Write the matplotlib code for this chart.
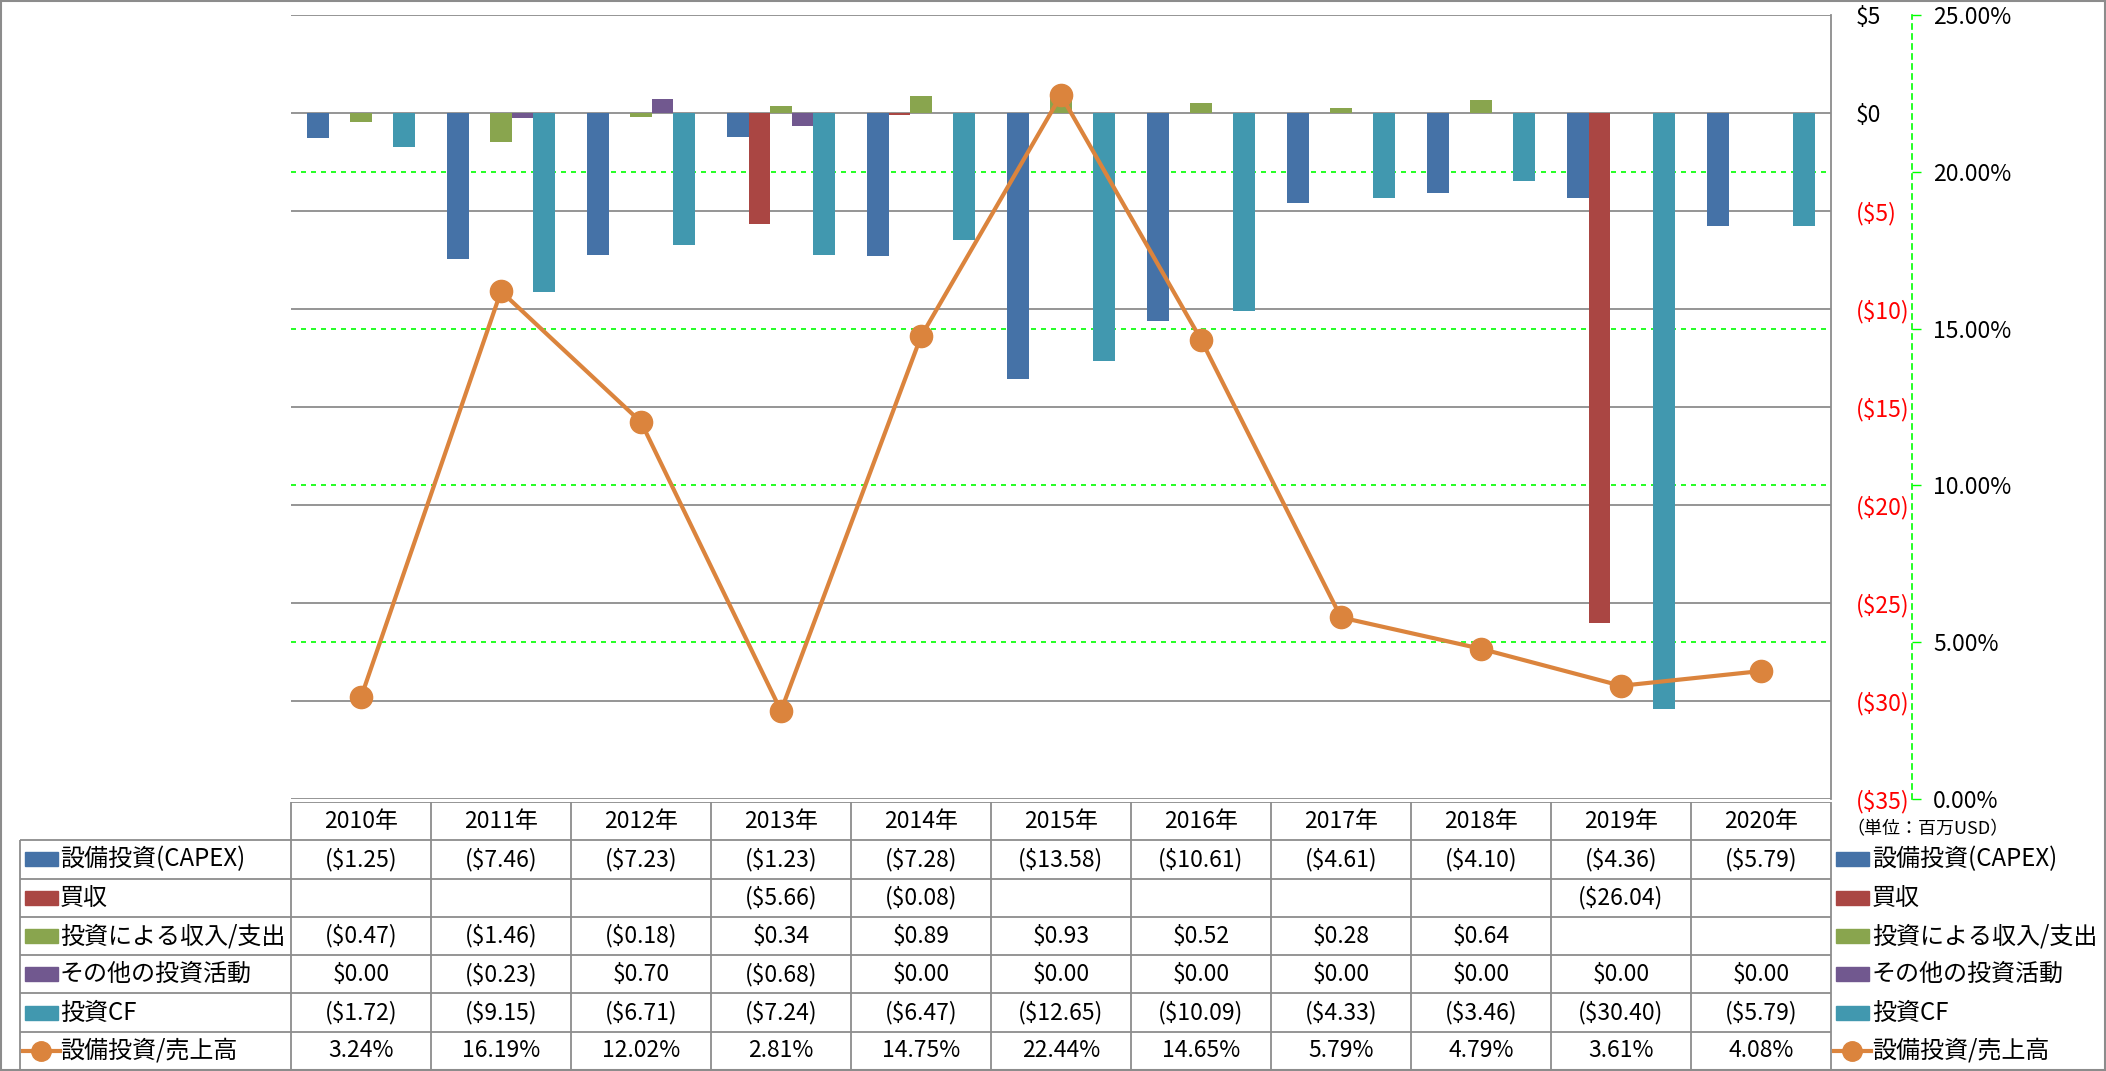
import matplotlib.pyplot as plt
from matplotlib.patches import Rectangle

plt.rcParams['font.family'] = ['Noto Sans CJK JP', 'DejaVu Sans']

# data (million USD)
years = ['2010年', '2011年', '2012年', '2013年', '2014年', '2015年',
         '2016年', '2017年', '2018年', '2019年', '2020年']
capex = [-1.25, -7.46, -7.23, -1.23, -7.28, -13.58, -10.61, -4.61, -4.10, -4.36, -5.79]
acquisition = [None, None, None, -5.66, -0.08, None, None, None, None, -26.04, None]
inv_income = [-0.47, -1.46, -0.18, 0.34, 0.89, 0.93, 0.52, 0.28, 0.64, None, None]
other_inv = [0.00, -0.23, 0.70, -0.68, 0.00, 0.00, 0.00, 0.00, 0.00, 0.00, 0.00]
inv_cf = [-1.72, -9.15, -6.71, -7.24, -6.47, -12.65, -10.09, -4.33, -3.46, -30.40, -5.79]
capex_ratio = [3.24, 16.19, 12.02, 2.81, 14.75, 22.44, 14.65, 5.79, 4.79, 3.61, 4.08]

bar_names = ['設備投資(CAPEX)', '買収', '投資による収入/支出', 'その他の投資活動', '投資CF']
line_name = '設備投資/売上高'
usd_ticks = [5, 0, -5, -10, -15, -20, -25, -30, -35]
pct_ticks = [0, 5, 10, 15, 20, 25]

colors = ['#4572A7', '#AA4643', '#89A54E', '#71588F', '#4198AF']
line_color = '#DB843D'
grid_gray = '#8C8C8C'
green = '#00FF00'

W, H = 2106, 1071
FS = 16.5      # numbers
FS_JP = 17.3   # series names


def usd(v):
    if v is None:
        return ''
    if v < 0:
        return f'(${-v:.2f})'
    return f'${v:.2f}'


def usd_axis(v):
    if v < 0:
        return f'(${-v})'
    return f'${v}'


fig = plt.figure(figsize=(W / 100, H / 100), dpi=100)

# main chart
ax = fig.add_axes([291 / W, 1 - 799 / H, 1540 / W, 784 / H])
ax2 = ax.twinx()

bars = [capex, acquisition, inv_income, other_inv, inv_cf]
bw = 1 / 6.5
for k, vals in enumerate(bars):
    xs = [i + (k - 2) * bw for i, v in enumerate(vals) if v is not None]
    hs = [v for v in vals if v is not None]
    ax.bar(xs, hs, width=bw, color=colors[k], zorder=3)

ax.set_xlim(-0.5, 10.5)
ax.set_ylim(-35, 5)
ax.set_yticks(usd_ticks)
ax.set_yticklabels([usd_axis(v) for v in usd_ticks])
ax.set_xticks([])
ax.yaxis.grid(True, color=grid_gray, lw=1.3, zorder=0)
ax.set_axisbelow(True)
for s in ['left', 'top', 'bottom']:
    ax.spines[s].set_visible(False)
ax.spines['right'].set_visible(True)
ax.spines['right'].set_color(grid_gray)
ax.spines['right'].set_linewidth(1.3)
ax.yaxis.tick_right()
ax.tick_params(axis='y', which='both', left=False, right=True, labelleft=False,
               labelright=True, length=0, pad=18, labelsize=FS)
for tick, v in zip(ax.yaxis.get_major_ticks(), usd_ticks):
    tick.label2.set_color('red' if v < 0 else 'black')

# secondary axis (ratio)
ax2.set_ylim(0, 25)
ax2.set_yticks(pct_ticks)
ax2.set_yticklabels([f'{v:.2f}%' for v in pct_ticks])
for t in pct_ticks[1:-1]:
    ax.axhline(-35 + t * 40 / 25, color=green, ls=(0, (3, 3)), lw=1.2, zorder=1)
for s in ['left', 'top', 'bottom']:
    ax2.spines[s].set_visible(False)
ax2.spines['right'].set_position(('outward', 58))
ax2.spines['right'].set_color(green)
ax2.spines['right'].set_linestyle((0, (3, 3)))
ax2.spines['right'].set_linewidth(1.2)
ax2.tick_params(axis='y', direction='out', length=6.5, width=1, color=green,
                pad=9, labelsize=FS)
ax2.plot(range(len(years)), capex_ratio, color=line_color, lw=3, marker='o',
         ms=16, zorder=5)

# data table
x0 = -0.5 - 291 / 140
x1 = -0.5 + (W - 291) / 140
tax = fig.add_axes([0, 1 - 1070 / H, 1, 268 / H])
tax.set_xlim(x0, x1)
tax.set_ylim(7, 0)
tax.axis('off')


def px2x(px):
    return -0.5 + (px - 291) / 140


xl = px2x(20)
tax.hlines(0, -0.5, 10.5, color=grid_gray, lw=1.3)
for r in range(1, 8):
    tax.hlines(r, xl, 10.5, color=grid_gray, lw=1.3)
for k in range(12):
    tax.vlines(-0.5 + k, 0, 7, color=grid_gray, lw=1.3)
tax.vlines(xl, 1, 7, color=grid_gray, lw=1.3)

for i, y in enumerate(years):
    tax.text(i, 0.5, y, ha='center', va='center', fontsize=FS)
for r, vals in enumerate(bars, start=1):
    for i, v in enumerate(vals):
        tax.text(i, r + 0.5, usd(v), ha='center', va='center', fontsize=FS)
for i, v in enumerate(capex_ratio):
    tax.text(i, 6.5, f'{v:.2f}%', ha='center', va='center', fontsize=FS)

kh = 14 / 38.3


def legend_keys(kx, tx):
    for r, name in enumerate(bar_names, start=1):
        tax.add_patch(Rectangle((px2x(kx), r + 0.5 - kh / 2), 33 / 140, kh,
                                color=colors[r - 1], clip_on=False))
        tax.text(px2x(tx), r + 0.5, name, ha='left', va='center', fontsize=FS_JP)
    tax.plot([px2x(kx - 2), px2x(kx + 35)], [6.5, 6.5], color=line_color, lw=3,
             clip_on=False)
    tax.plot([px2x(kx + 16)], [6.5], 'o', color=line_color, ms=14, clip_on=False)
    tax.text(px2x(tx), 6.5, line_name, ha='left', va='center', fontsize=FS_JP)


legend_keys(25, 60)
legend_keys(1836, 1872)

fig.text(1846 / W, 1 - 829 / H, '（単位：百万USD）', fontsize=13, va='center')

fig.add_artist(Rectangle((0.0005, 0.001), 0.999, 0.998, transform=fig.transFigure,
                         fill=False, edgecolor=grid_gray, lw=1.5))

fig.savefig('out.png', dpi=100)
